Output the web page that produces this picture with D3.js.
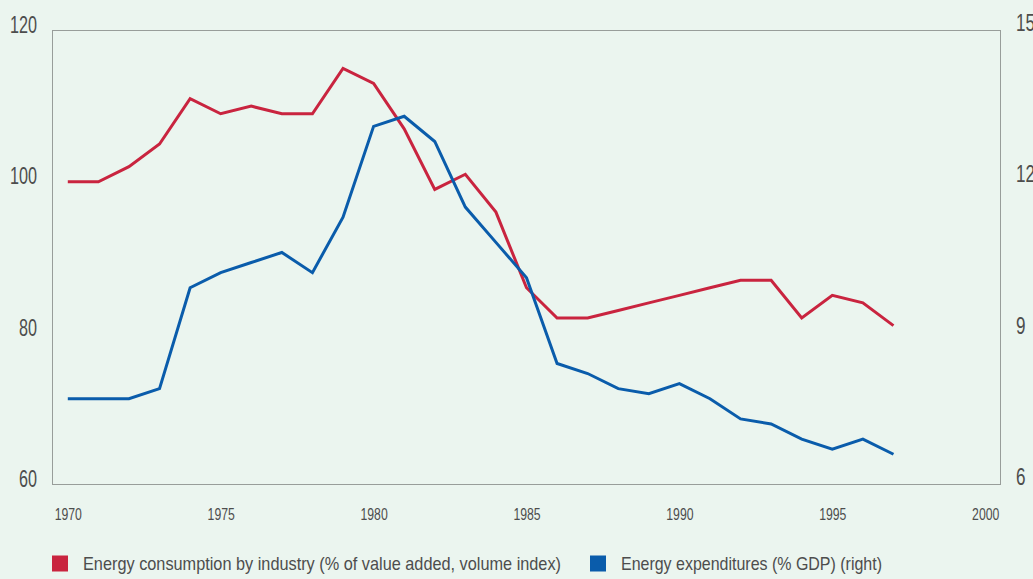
<!DOCTYPE html>
<html>
<head>
<meta charset="utf-8">
<script src="https://cdn.jsdelivr.net/npm/d3@7"></script>
<style>
  html, body { margin: 0; padding: 0; background: #EBF5EF; }
  svg { display: block; }
  text { font-family: "Liberation Sans Narrow", "Liberation Sans", "DejaVu Sans Condensed", sans-serif; fill: #4d4d4d; }
</style>
</head>
<body>
<svg id="chart" width="1033" height="579"></svg>
<script>
const years = [1970,1971,1972,1973,1974,1975,1976,1977,1978,1979,1980,1981,1982,1983,1984,1985,1986,1987,1988,1989,1990,1991,1992,1993,1994,1995,1996,1997];
const consumption = [100,100,102,105,111,109,110,109,109,115,113,107,99,101,96,86,82,82,83,84,85,86,87,87,82,85,84,81];
const expenditures = [7.7,7.7,7.7,7.9,9.9,10.2,10.4,10.6,10.2,11.3,13.1,13.3,12.8,11.5,10.8,10.1,8.4,8.2,7.9,7.8,8.0,7.7,7.3,7.2,6.9,6.7,6.9,6.6];
const xTicks = [1970,1975,1980,1985,1990,1995,2000];
const leftTicks = [60,80,100,120];
const rightTicks = [6,9,12,15];
const seriesNames = ["Energy consumption by industry (% of value added, volume index)", "Energy expenditures (% GDP) (right)"];
const colors = ["#C9243F", "#0A5CAB"];

const svg = d3.select("#chart");
const L = 52.5, R = 1000.5, T = 30.5, B = 484.5;

const x = d3.scaleLinear().domain([1969.5, 2000.5]).range([L, R]);
const yL = d3.scaleLinear().domain([60, 120]).range([B, T]);
const yR = d3.scaleLinear().domain([6, 15]).range([B, T]);

// condense text horizontally to mimic a condensed face
function condense(sel, perChar) {
  sel.each(function () {
    const n = this.textContent.length;
    d3.select(this).attr("textLength", n * perChar).attr("lengthAdjust", "spacingAndGlyphs");
  });
}

// dotted frame
svg.append("rect")
  .attr("x", L).attr("y", T).attr("width", R - L).attr("height", B - T)
  .attr("fill", "none").attr("stroke", "#444").attr("stroke-width", 1)
  .attr("stroke-dasharray", "1,1");

// left axis
const axL = svg.append("g").attr("transform", `translate(37,0)`)
  .call(d3.axisLeft(yL).tickValues(leftTicks).tickSize(0).tickPadding(0));
axL.select(".domain").remove();
axL.selectAll("text").attr("dy", "2px").style("font-size", "23px").attr("fill", "#4d4d4d")
  .style("font-weight", "300").call(condense, 9);

// right axis
const axR = svg.append("g").attr("transform", `translate(1016,0)`)
  .call(d3.axisRight(yR).tickValues(rightTicks).tickSize(0).tickPadding(0));
axR.select(".domain").remove();
axR.selectAll("text").attr("dy", "0px").style("font-size", "23px").attr("fill", "#4d4d4d")
  .call(condense, 9.5);

// bottom axis
const axB = svg.append("g").attr("transform", `translate(0,520)`)
  .call(d3.axisBottom(x).tickValues(xTicks).tickFormat(d3.format("d")).tickSize(0).tickPadding(0));
axB.select(".domain").remove();
axB.selectAll("text").attr("dy", "0px").attr("y", 0).style("font-size", "16px").attr("fill", "#4d4d4d")
  .call(condense, 6.8);

// lines
const lineL = d3.line().x((d, i) => x(years[i])).y(d => yL(d));
const lineR = d3.line().x((d, i) => x(years[i])).y(d => yR(d));

svg.append("path").datum(consumption)
  .attr("d", lineL).attr("fill", "none").attr("stroke", colors[0])
  .attr("stroke-width", 3).attr("stroke-linejoin", "miter");
svg.append("path").datum(expenditures)
  .attr("d", lineR).attr("fill", "none").attr("stroke", colors[1])
  .attr("stroke-width", 3).attr("stroke-linejoin", "miter");

// legend
const legendX = [52, 590];
const textX = [83, 621];
const textW = [478, 261];
seriesNames.forEach((name, i) => {
  svg.append("rect").attr("x", legendX[i]).attr("y", 555.5).attr("width", 16).attr("height", 16)
    .attr("fill", colors[i]);
  svg.append("text").attr("x", textX[i]).attr("y", 570)
    .style("font-size", "19px").attr("textLength", textW[i]).attr("lengthAdjust", "spacingAndGlyphs")
    .text(name);
});
</script>
</body>
</html>
